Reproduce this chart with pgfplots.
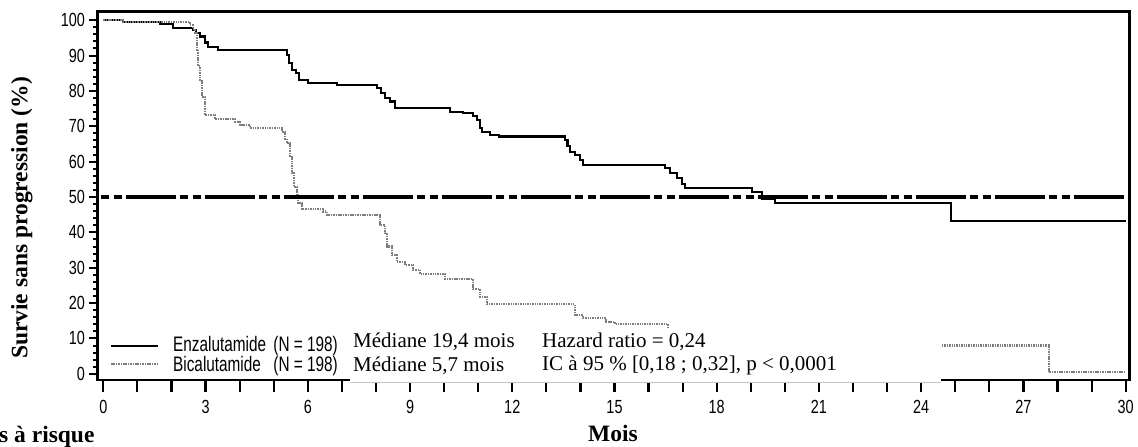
\documentclass[border=0pt]{standalone}
\usepackage{fontspec}
\usepackage{pgfplots}
\pgfplotsset{compat=1.18}
\setmainfont{Liberation Serif}
\newfontfamily\narrow[FakeStretch=0.76]{Liberation Sans}
\newfontfamily\narrowleg[FakeStretch=0.73]{Liberation Sans}
\definecolor{bical}{RGB}{125,125,125}
\begin{document}
\begin{tikzpicture}
\pgfplotsset{
  common/.style={at={(0,0)}, anchor=south west, scale only axis,
    width=1031.6pt, height=368.3pt,
    xmin=-0.164, xmax=30.106, ymin=-1.75, ymax=102.4,
    tick align=outside,
    /pgf/number format/assume math mode=true,
    tick label style={font=\narrow\fontsize{19}{21}\selectfont, black},
  }
}
\begin{axis}[common,
  axis line style={line width=2.6pt},
  xtick pos=left, ytick=\empty,
  xtick={0,...,30},
  xticklabels={0,,,3,,,6,,,9,,,12,,,15,,,18,,,21,,,24,,,27,,,30},
  major tick length=12pt,
  xtick style={line width=2.2pt, black},
  xticklabel style={inner sep=0pt, yshift=-8pt},
]
\addplot[const plot, black, line width=2.1pt] coordinates {
(0,100) (0.58,99.4) (1.66,99.0) (2.05,97.8) (2.64,97.1) (2.72,96.3) (2.84,95.4)
(2.99,93.7) (3.08,92.5) (3.37,91.6) (5.39,90.2) (5.45,88) (5.55,85.9) (5.65,85.0)
(5.75,83.1) (6.0,82.3) (6.85,81.7) (8.02,80.8) (8.15,79.5) (8.27,77.9) (8.41,77.0)
(8.56,75.1) (10.17,74.1) (10.55,73.7) (10.85,72.8) (10.96,71.8) (11.05,69.4)
(11.1,68.5) (11.35,67.6) (11.6,67.1) (13.55,66.1) (13.62,64.5) (13.69,62.8)
(13.84,61.9) (13.98,60.5) (14.08,59.1) (16.48,58.1) (16.63,56.9) (16.83,55.3)
(16.98,53.7) (17.07,52.5) (19.03,51.5) (19.33,49.4) (19.71,48.2) (24.87,43.3) (30.0,43.3)
};
\addplot[const plot, bical, line width=2.1pt, dash pattern=on 1.5pt off 0.9pt] coordinates {
(0,100) (0.58,99.4) (2.54,98.7) (2.62,97.5) (2.69,96.4) (2.74,91.6) (2.79,86.9)
(2.84,83.1) (2.89,78.4) (2.98,73.2) (3.28,72.0) (3.87,71.3) (4.01,70.4) (4.30,69.6)
(5.25,68.5) (5.34,66.5) (5.39,65.2) (5.48,61.4) (5.53,56.7) (5.6,52.9) (5.68,50.6)
(5.72,48.2) (5.83,46.5) (6.44,45.9) (6.56,44.9) (8.12,42.1) (8.27,39.8) (8.32,36.0)
(8.47,33.6) (8.61,31.7) (8.85,30.8) (9.09,29.4) (9.29,28.2) (10.03,26.8) (10.85,24.0)
(11.05,21.8) (11.26,19.7) (13.84,16.6) (14.08,15.7) (14.75,14.7) (15.01,14.1)
(16.57,8.0) (27.75,0.4) (30.0,0.4)
};
\addplot[black, line width=3.3pt, dash pattern=on 50pt off 4pt on 8pt off 5pt on 8pt off 4pt, dash phase=51pt]
  coordinates {(-0.164,50) (30.106,50)};
\end{axis}
\begin{axis}[common,
  axis line style={draw=none},
  xtick=\empty, ytick pos=left,
  ytick={0,10,...,100}, minor ytick={0,2,...,100},
  major tick length=9pt, minor tick length=5pt,
  ytick style={line width=2pt, black},
  minor tick style={line width=2pt, black},
  yticklabel style={inner sep=0pt, xshift=-3.5pt},
]
\addplot[draw=none] coordinates {(0,0)};
\end{axis}
\begin{scope}[x=1pt, y=-1pt, shift={(-97.7pt,380pt)}]
  \fill[white] (350,329) rectangle (941,381.6);
  \draw[gray!45, line width=0.6pt] (350,381.9) -- (941,381.9);
  % legend
  \draw[black, line width=2pt] (111,346) -- (158,346);
  \draw[bical, line width=2pt, dash pattern=on 1.5pt off 0.9pt] (111,364) -- (158,364);
  \begin{scope}[every node/.style={inner sep=0pt, font=\narrowleg\fontsize{21}{23}\selectfont}]
    \node[anchor=base west] at (173,352) {Enzalutamide};
    \node[anchor=base east] at (338,352) {(N = 198)};
    \node[anchor=base west] at (173,372) {Bicalutamide};
    \node[anchor=base east] at (338,372) {(N = 198)};
  \end{scope}
  \begin{scope}[every node/.style={inner sep=0pt, font=\fontsize{21}{23}\selectfont}]
    \node[anchor=base west] at (353,348) {Médiane 19,4 mois};
    \node[anchor=base west] at (353,372) {Médiane 5,7 mois};
    \node[anchor=base west] at (542,348) {Hazard ratio = 0,24};
    \node[anchor=base west] at (542,371) {IC à 95 \% [0,18 ; 0,32], p < 0,0001};
  \end{scope}
  \begin{scope}[every node/.style={inner sep=0pt, font=\bfseries\fontsize{23.5}{26}\selectfont}]
    \node[anchor=base] at (613,442) {Mois};
    \node[anchor=base, rotate=90] at (27.5,218) {Survie sans progression (\%)};
    \node[anchor=base west] at (-1,443) {s à risque};
  \end{scope}
  \pgfresetboundingbox
  \path[use as bounding box] (0,0) rectangle (1138,447);
\end{scope}
\end{tikzpicture}
\end{document}
